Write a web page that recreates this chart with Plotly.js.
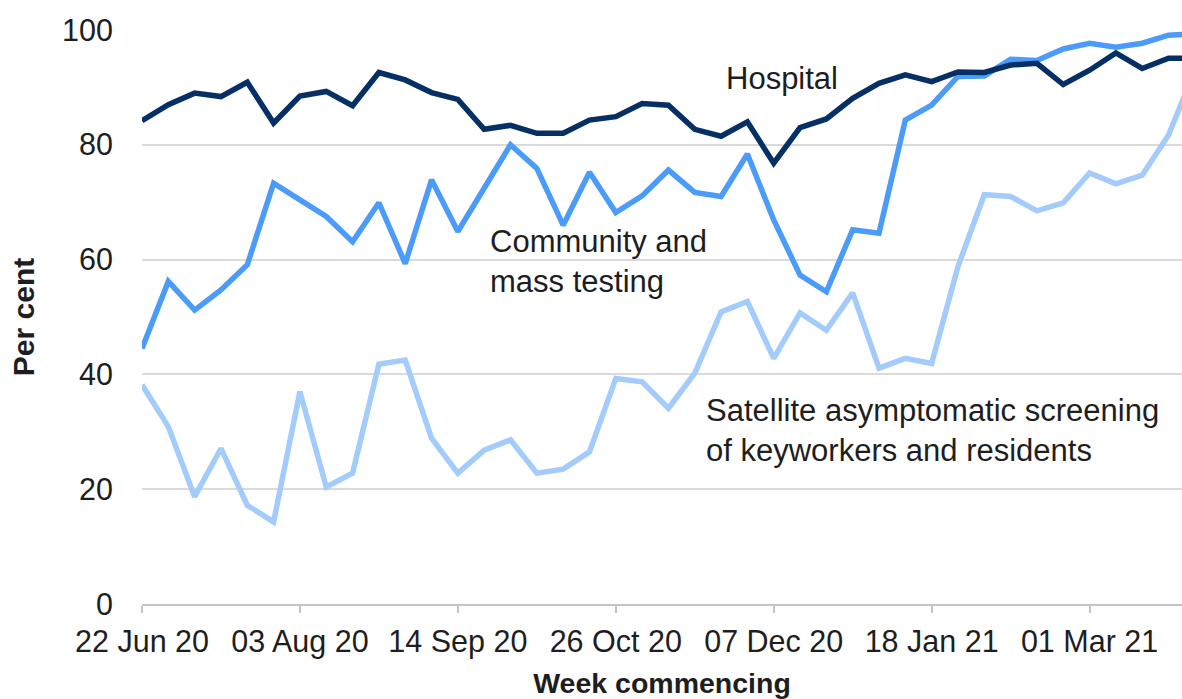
<!DOCTYPE html>
<html>
<head>
<meta charset="utf-8">
<script src="https://cdn.plot.ly/plotly-3.0.1.min.js"></script>
<style>
  html, body { margin: 0; padding: 0; background: #ffffff; }
  #chart { width: 1182px; height: 699px; }
</style>
</head>
<body>
<div id="chart"></div>
<script>
// Week commencing dates
const weeks = [
  "2020-06-22","2020-06-29","2020-07-06","2020-07-13","2020-07-20","2020-07-27",
  "2020-08-03","2020-08-10","2020-08-17","2020-08-24","2020-08-31","2020-09-07",
  "2020-09-14","2020-09-21","2020-09-28","2020-10-05","2020-10-12","2020-10-19",
  "2020-10-26","2020-11-02","2020-11-09","2020-11-16","2020-11-23","2020-11-30",
  "2020-12-07","2020-12-14","2020-12-21","2020-12-28","2021-01-04","2021-01-11",
  "2021-01-18","2021-01-25","2021-02-01","2021-02-08","2021-02-15","2021-02-22",
  "2021-03-01","2021-03-08","2021-03-15","2021-03-22","2021-03-29"
];

const hospital = [
  84.2, 87.0, 89.0, 88.4, 90.9, 83.8, 88.5, 89.3, 86.8, 92.6, 91.3, 89.1,
  87.9, 82.7, 83.4, 82.0, 82.0, 84.3, 84.9, 87.2, 86.9, 82.7, 81.5, 84.0,
  76.8, 83.0, 84.5, 88.1, 90.7, 92.2, 91.0, 92.7, 92.6, 93.9, 94.2, 90.5,
  93.0, 96.0, 93.3, 95.1, 95.1
];

const community = [
  44.5, 56.2, 51.2, 54.7, 59.1, 73.3, 70.4, 67.5, 63.1, 69.9, 59.3, 73.9,
  64.9, 72.5, 80.0, 75.9, 66.0, 75.2, 68.2, 71.1, 75.6, 71.7, 71.0, 78.4,
  66.9, 57.3, 54.4, 65.2, 64.6, 84.3, 86.9, 91.9, 92.0, 94.9, 94.7, 96.7,
  97.7, 97.0, 97.7, 99.1, 99.3
];

const satellite = [
  38.2, 30.9, 18.7, 27.1, 17.2, 14.3, 37.0, 20.4, 22.8, 41.8, 42.5, 28.9,
  22.8, 26.8, 28.6, 22.8, 23.5, 26.5, 39.3, 38.7, 34.1, 40.2, 50.9, 52.7,
  42.8, 50.7, 47.7, 54.2, 41.1, 42.8, 41.9, 58.8, 71.3, 71.0, 68.5, 69.9,
  75.1, 73.2, 74.7, 81.7, 93.0
];

const tickDates = ["2020-06-22","2020-08-03","2020-09-14","2020-10-26","2020-12-07","2021-01-18","2021-03-01"];
const tickLabels = ["22 Jun 20","03 Aug 20","14 Sep 20","26 Oct 20","07 Dec 20","18 Jan 21","01 Mar 21"];
const yTicks = [0, 20, 40, 60, 80, 100];

const seriesNames = ["Satellite asymptomatic screening of keyworkers and residents", "Community and mass testing", "Hospital"];
const labelTexts = ["Satellite asymptomatic screening<br>of keyworkers and residents", "Community and<br>mass testing", "Hospital"];

const FONT = '"Liberation Sans", Arial, Helvetica, sans-serif';
const TXT = '#1e1e1e';

const traces = [
  { x: weeks, y: satellite, name: seriesNames[0], type: 'scatter', mode: 'lines',
    line: { color: '#a3cbfc', width: 5.5 } },
  { x: weeks, y: community, name: seriesNames[1], type: 'scatter', mode: 'lines',
    line: { color: '#4b9bfb', width: 5.5 } },
  { x: weeks, y: hospital, name: seriesNames[2], type: 'scatter', mode: 'lines',
    line: { color: '#062f66', width: 5.5 } }
];

const layout = {
  width: 1182, height: 699,
  margin: { l: 142, r: 0, t: 30, b: 95 },
  paper_bgcolor: '#ffffff', plot_bgcolor: '#ffffff',
  showlegend: false,
  font: { family: FONT, color: TXT, size: 30 },
  xaxis: {
    type: 'date',
    range: ['2020-06-22', '2021-03-25 14:00'],
    tickvals: tickDates, ticktext: tickLabels,
    showgrid: false, zeroline: false,
    showline: true, linecolor: '#c4c4c4', linewidth: 2,
    ticks: 'outside', ticklen: 7, tickwidth: 2, tickcolor: '#c4c4c4',
    ticklabelstandoff: 2,
    tickfont: { family: FONT, size: 30.5, color: TXT },
    title: { text: 'Week commencing', font: { family: FONT, size: 28.5, color: TXT, weight: 'bold' }, standoff: 16 }
  },
  yaxis: {
    range: [0, 100], tickvals: yTicks,
    showgrid: true, gridcolor: '#dadada', gridwidth: 2,
    zeroline: false, showline: false,
    ticks: '', ticklabelstandoff: 28,
    tickfont: { family: FONT, size: 30.5, color: TXT },
    title: { text: 'Per cent', font: { family: FONT, size: 30, color: TXT, weight: 'bold' }, standoff: 18 }
  },
  annotations: [
    { xref: 'paper', yref: 'y', x: 0.5594, y: 91.6, xanchor: 'left', yanchor: 'middle',
      text: labelTexts[2], showarrow: false, align: 'left',
      font: { family: FONT, size: 31, color: TXT } },
    { xref: 'paper', yref: 'y', x: 0.3324, y: 59.6, xanchor: 'left', yanchor: 'middle',
      text: labelTexts[1], showarrow: false, align: 'left',
      font: { family: FONT, size: 31, color: TXT } },
    { xref: 'paper', yref: 'y', x: 0.5402, y: 30.3, xanchor: 'left', yanchor: 'middle',
      text: labelTexts[0], showarrow: false, align: 'left',
      font: { family: FONT, size: 31, color: TXT } }
  ]
};

Plotly.newPlot('chart', traces, layout, { staticPlot: true, displayModeBar: false });
</script>
</body>
</html>
